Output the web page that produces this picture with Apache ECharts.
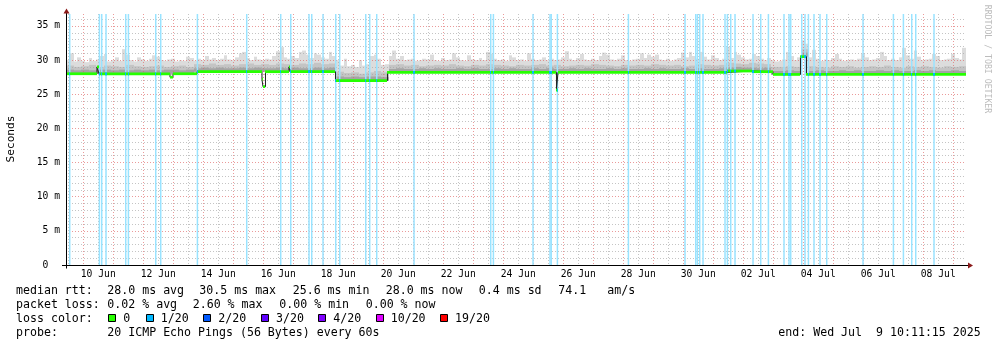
<!DOCTYPE html>
<html>
<head>
<meta charset="utf-8">
<script src="https://cdn.jsdelivr.net/npm/echarts@6/dist/echarts.min.js"></script>
<style>
  html, body { margin: 0; padding: 0; background: #fff; }
  #chart { width: 997px; height: 347px; }
</style>
</head>
<body>
<div id="chart"></div>
<script>
// ---------------- data (times are UTC, year 2025) ----------------
const startTime = '06-09 10:11:15';
const endTime = '07-09 10:11:15';

// day labels, each centred on noon of its day
const xTickDays = ['06-10', '06-12', '06-14', '06-16', '06-18', '06-20', '06-22', '06-24',
                   '06-26', '06-28', '06-30', '07-02', '07-04', '07-06', '07-08'];
const xTickLabels = ['10 Jun', '12 Jun', '14 Jun', '16 Jun', '18 Jun', '20 Jun', '22 Jun', '24 Jun',
                     '26 Jun', '28 Jun', '30 Jun', '02 Jul', '04 Jul', '06 Jul', '08 Jul'];

const yMaxMs = 36.75;
const yTickStep = 5;

// median rtt (ms): level changes, value holds until the next entry
const medianLevels = [
  ['06-09 10:11', 28.0],
  ['06-13 18:58', 28.3],
  ['06-18 09:46', 27.0],
  ['06-20 03:22', 28.2],
  ['07-01 10:58', 28.4],
  ['07-02 07:22', 28.3],
  ['07-02 23:46', 27.9],
  ['07-03 21:46', 30.5],
  ['07-04 02:34', 27.9]
];
// short excursions of the median: [from, to, ms]
const medianSpikes = [
  ['06-10 10:58', '06-10 12:34', 29.0],
  ['06-12 21:22', '06-12 23:46', 27.5],
  ['06-15 22:58', '06-15 23:46', 27.2],
  ['06-15 23:46', '06-16 01:46', 26.1],
  ['06-16 20:34', '06-16 21:46', 29.0],
  ['06-25 18:34', '06-25 19:46', 25.6]
];

// packet loss events: [time, lost pings out of 20]
const lossStepMinutes = 72;
const lossEvents = [
  ['06-09 12:34', 1], ['06-10 12:19', 1], ['06-10 14:10', 1], ['06-10 17:36', 1],
  ['06-11 09:22', 1], ['06-11 11:31', 1], ['06-12 09:22', 1], ['06-12 13:22', 1],
  ['06-13 18:43', 1], ['06-15 10:10', 1], ['06-16 13:22', 1], ['06-16 21:22', 1],
  ['06-17 12:00', 1], ['06-17 14:10', 1], ['06-17 23:12', 1], ['06-18 09:22', 1],
  ['06-18 12:34', 1], ['06-19 09:22', 1], ['06-19 12:34', 1], ['06-19 18:10', 1],
  ['06-21 00:00', 1], ['06-23 13:22', 1], ['06-23 15:31', 1], ['06-24 23:12', 1],
  ['06-25 12:48', 1], ['06-25 13:46', 1], ['06-25 18:43', 1], ['06-28 03:31', 1],
  ['06-30 00:48', 1], ['06-30 09:22', 1], ['06-30 10:43', 1], ['06-30 12:34', 1],
  ['06-30 15:12', 1], ['07-01 08:48', 1], ['07-01 10:43', 1], ['07-01 13:22', 1],
  ['07-01 16:48', 1], ['07-02 07:12', 1], ['07-02 13:22', 1], ['07-02 19:31', 1],
  ['07-03 08:00', 1], ['07-03 12:00', 1], ['07-03 13:22', 1], ['07-03 22:10', 1],
  ['07-04 00:48', 1], ['07-04 03:31', 1], ['07-04 08:00', 1], ['07-04 12:48', 1],
  ['07-04 18:10', 1], ['07-05 23:12', 1], ['07-06 23:31', 1], ['07-07 07:31', 1],
  ['07-07 14:10', 1], ['07-07 17:22', 1], ['07-08 08:00', 1]
];

// smoke: highest ping per 3 h (ms)
const smokeStepHours = 3;
const smokeOuter = [
  30.0, 31.0, 29.8, 30.4, 29.9, 29.7, 30.3, 29.9, 30.1, 30.6,
  30.9, 29.8, 30.0, 30.4, 29.9, 31.6, 30.8, 30.0, 29.8, 30.4,
  30.1, 29.9, 30.2, 30.7, 30.5, 30.0, 29.9, 30.1, 30.2, 29.8,
  30.0, 29.9, 30.5, 30.3, 29.9, 30.2, 30.0, 30.6, 30.1, 30.3,
  30.0, 30.2, 30.7, 30.1, 30.0, 30.4, 31.0, 31.2, 30.3, 30.0,
  30.5, 30.1, 30.0, 30.2, 30.1, 30.6, 31.3, 31.9, 30.4, 30.2,
  30.6, 30.3, 31.2, 31.4, 30.8, 30.3, 31.0, 30.8, 30.4, 30.2,
  31.2, 30.6, 30.0, 29.2, 30.2, 29.1, 29.3, 29.0, 30.0, 29.2,
  29.4, 30.6, 30.8, 30.2, 29.3, 29.4, 30.6, 31.4, 30.2, 30.6,
  30.0, 30.1, 30.2, 29.9, 30.0, 30.2, 30.1, 30.8, 30.0, 29.9,
  30.3, 30.0, 30.1, 31.0, 30.4, 30.0, 29.9, 30.7, 30.1, 30.0,
  30.3, 30.0, 31.2, 30.9, 30.2, 30.0, 30.1, 29.9, 30.7, 30.4,
  30.0, 30.1, 29.9, 31.0, 30.2, 30.0, 30.1, 30.4, 30.0, 30.2,
  30.0, 30.1, 30.4, 31.3, 30.2, 30.0, 30.3, 30.9, 30.1, 30.0,
  30.2, 30.0, 30.6, 31.1, 30.8, 30.1, 30.0, 30.2, 30.7, 30.0,
  29.9, 30.1, 30.2, 31.0, 30.3, 30.8, 30.5, 30.8, 30.1, 30.0,
  30.2, 29.9, 30.1, 30.3, 31.1, 30.4, 31.2, 30.6, 30.2, 31.2,
  30.5, 30.1, 30.7, 30.3, 30.0, 30.2, 31.9, 30.3, 31.2, 30.8,
  30.4, 30.1, 30.2, 30.9, 30.6, 30.2, 30.0, 30.3, 30.0, 29.8,
  29.9, 30.1, 31.2, 30.6, 30.0, 30.4, 32.9, 32.4, 30.4, 31.5,
  30.2, 29.9, 30.1, 30.0, 30.3, 30.9, 30.2, 29.9, 30.0, 30.1,
  30.0, 30.2, 30.9, 30.4, 30.0, 30.1, 30.3, 31.2, 30.6, 30.0,
  30.2, 30.0, 30.4, 31.8, 30.7, 30.2, 31.4, 30.5, 30.0, 30.1,
  30.2, 30.9, 30.6, 30.0, 30.1, 30.2, 30.9, 30.3, 30.1, 31.8
];

// smoke: upper quartile and a tighter band around the median, per 6 h (ms)
const bandStepHours = 6;
const smokeMid = [
  29.2, 29.0, 29.1, 29.3, 29.0, 29.2, 29.1, 29.0, 29.3, 29.1,
  29.0, 29.1, 29.2, 29.0, 29.1, 29.2, 29.0,
  29.4, 29.3, 29.5, 29.3, 29.4, 29.2, 29.4, 29.5, 29.3, 29.4,
  29.3, 29.5, 29.4, 29.3, 29.5, 29.4, 29.6, 29.4, 29.5,
  28.3, 28.1, 28.2, 28.0, 28.2, 28.4, 28.2,
  29.3, 29.4, 29.2, 29.3, 29.1, 29.2, 29.3, 29.2, 29.4, 29.2,
  29.1, 29.3, 29.2, 29.4, 29.3, 29.2, 29.1, 29.3, 29.2, 29.3,
  29.4, 29.2, 29.3, 29.1, 29.2, 29.3, 29.2, 29.4, 29.3, 29.2,
  29.1, 29.3, 29.2, 29.3, 29.2, 29.4, 29.3, 29.2, 29.3, 29.1,
  29.2, 29.4, 29.3, 29.2, 29.3,
  29.6, 29.5, 29.4, 29.6, 29.5, 29.4, 29.0,
  29.0, 29.1, 29.0,
  31.6,
  29.1, 29.0, 28.9, 29.1, 29.0, 29.1, 28.9, 29.0, 29.1, 29.0,
  29.2, 29.0, 28.9, 29.1, 29.0, 29.1, 29.0, 28.9, 29.1, 29.0, 29.1
];
const smokeInner = [
  28.6, 28.5, 28.6, 28.5, 28.6, 28.6, 28.5, 28.6, 28.5, 28.6,
  28.5, 28.6, 28.5, 28.6, 28.6, 28.5, 28.6,
  28.8, 28.9, 28.8, 28.9, 28.8, 28.8, 28.9, 28.8, 28.9, 28.8,
  28.8, 28.9, 28.8, 28.9, 28.8, 28.8, 28.9, 28.8, 28.9,
  27.6, 27.5, 27.6, 27.5, 27.6, 27.6, 27.5,
  28.7, 28.8, 28.7, 28.7, 28.8, 28.7, 28.8, 28.7, 28.7, 28.8,
  28.7, 28.8, 28.7, 28.7, 28.8, 28.7, 28.8, 28.7, 28.7, 28.8,
  28.7, 28.8, 28.7, 28.7, 28.8, 28.7, 28.8, 28.7, 28.7, 28.8,
  28.7, 28.8, 28.7, 28.7, 28.8, 28.7, 28.8, 28.7, 28.7, 28.8,
  28.7, 28.8, 28.7, 28.7, 28.8,
  28.9, 29.0, 28.9, 28.9, 28.8, 28.9, 28.4,
  28.4, 28.5, 28.4,
  31.1,
  28.4, 28.5, 28.4, 28.4, 28.5, 28.4, 28.5, 28.4, 28.4, 28.5,
  28.4, 28.5, 28.4, 28.4, 28.5, 28.4, 28.5, 28.4, 28.4, 28.5, 28.4
];

// legend
const lossLabels = ['0', '1/20', '2/20', '3/20', '4/20', '10/20', '19/20'];
const lossColors = ['#26ff00', '#00b8ff', '#0059ff', '#5e00ff', '#7e00ff', '#dd00ff', '#ff0000'];
const lossCounts = [0, 1, 2, 3, 4, 10, 19];
const statsRtt = [['28.0', 'ms avg'], ['30.5', 'ms max'], ['25.6', 'ms min'], ['28.0', 'ms now']];
const statsLoss = [['0.02', '% avg'], ['2.60', '% max'], ['0.00', '% min'], ['0.00', '% now']];
const rttSd = '0.4';
const rttAmS = '74.1';
const probeText = '20 ICMP Echo Pings (56 Bytes) every 60s';
const endText = 'end: Wed Jul  9 10:11:15 2025';

// ---------------- helpers ----------------
function T(s) {
  const m = s.match(/^(\d\d)-(\d\d)(?: (\d\d):(\d\d)(?::(\d\d))?)?$/);
  return Date.UTC(2025, +m[1] - 1, +m[2], +(m[3] || 0), +(m[4] || 0), +(m[5] || 0));
}
const HOUR = 3600 * 1000;
const START = T(startTime), END = T(endTime);

const levelPts = medianLevels.map(([s, v]) => [T(s), v]);
function levelAt(t) {
  let v = levelPts[0][1];
  for (const [ti, vi] of levelPts) { if (ti <= t) v = vi; else break; }
  return v;
}
const spikes = medianSpikes.map(([a, b, v]) => [T(a), T(b), v]);
const cutSet = new Set([START, END]);
levelPts.forEach(p => cutSet.add(p[0]));
spikes.forEach(s => { cutSet.add(s[0]); cutSet.add(s[1]); });
const cuts = [...cutSet].filter(t => t >= START && t <= END).sort((a, b) => a - b);
const segments = [];
for (let i = 0; i < cuts.length - 1; i++) {
  const a = cuts[i], b = cuts[i + 1], mid = (a + b) / 2;
  const sp = spikes.find(s => s[0] <= mid && mid < s[1]);
  segments.push([a, b, sp ? sp[2] : levelAt(mid)]);
}
function medianAt(t) {
  const s = segments.find(s => s[0] <= t && t < s[1]);
  return s ? s[2] : segments[segments.length - 1][2];
}
function tint(hex, a) {
  const n = parseInt(hex.slice(1), 16);
  const c = [(n >> 16) & 255, (n >> 8) & 255, n & 255].map(v => Math.round(v * a + 255 * (1 - a)));
  return 'rgb(' + c.join(',') + ')';
}

// ---------------- layout / style ----------------
const GL = 66, GT = 14, GW = 900, GH = 251;
const FONT = '"DejaVu Sans Mono", "Liberation Mono", monospace';
const MAJOR_GRID = 'rgba(222,100,100,0.65)';
const MINOR_GRID = 'rgba(165,165,165,0.65)';
const GRID_DASH = [1, 2];
const BAND = 0.2;   // half height of the coloured median band (ms)

// vertical grid: midnights (major) and noons (minor)
const vGrid = [];
for (let t = T('06-09'); t <= END; t += 12 * HOUR) {
  if (t >= START) vGrid.push([t, (t % (24 * HOUR)) === 0 ? 1 : 0]);
}
const labelTimes = xTickDays.map(d => T(d) + 12 * HOUR);

const lossStepMs = lossStepMinutes * 60 * 1000;

function cellData(arr, stepH) {
  return arr.map((v, i) => [START + i * stepH * HOUR, v]);
}
function smokeRender(stepH, color) {
  const stepMs = stepH * HOUR;
  return function (params, api) {
    const t0 = api.value(0), top = api.value(1);
    const t1 = Math.min(t0 + stepMs, END);
    const base = levelAt((t0 + t1) / 2);
    const p0 = api.coord([t0, top]);
    const p1 = api.coord([t1, base]);
    const x0 = Math.round(p0[0]), x1 = Math.round(p1[0]);
    return {
      type: 'rect',
      shape: { x: x0, y: p0[1], width: x1 - x0, height: p1[1] - p0[1] },
      style: { fill: color }
    };
  };
}

// ---------------- legend text ----------------
const graphics = [];
function txt(x, y, s, extra) {
  graphics.push(Object.assign({
    type: 'text', x: x, y: y, z: 100, silent: true,
    style: { text: s, font: '11.6px ' + FONT, fill: '#000', verticalAlign: 'middle', align: 'left' }
  }, extra || {}));
}
const rowY = [291, 305, 319, 333];
txt(16, rowY[0], 'median rtt:');
[107.3, 199.3, 292.7, 385.7].forEach((x, i) => txt(x, rowY[0], statsRtt[i][0] + ' ' + statsRtt[i][1]));
txt(478.7, rowY[0], rttSd);
txt(506.7, rowY[0], 'ms sd');
txt(558.3, rowY[0], rttAmS);
txt(607.3, rowY[0], 'am/s');
txt(16, rowY[1], 'packet loss:');
[107.3, 192.7, 279.3, 365.7].forEach((x, i) => txt(x, rowY[1], statsLoss[i][0] + ' ' + statsLoss[i][1]));
txt(16, rowY[2], 'loss color:');
const boxX = [108.5, 146.5, 203.5, 261.5, 318.5, 376.5, 440.5];
const boxLabelX = [123.3, 160.7, 218.3, 276, 333.3, 390.7, 455];
lossLabels.forEach((lab, i) => {
  graphics.push({
    type: 'rect', z: 100, silent: true,
    shape: { x: boxX[i], y: 314.5, width: 7, height: 7 },
    style: { fill: lossColors[i], stroke: '#000', lineWidth: 1 }
  });
  txt(boxLabelX[i], rowY[2], lab);
});
txt(16, rowY[3], 'probe:');
txt(107.3, rowY[3], probeText);
txt(778.3, rowY[3], endText);

// axis title and credit
graphics.push({
  type: 'text', x: 11, y: 139, rotation: Math.PI / 2, z: 100, silent: true,
  style: { text: 'Seconds', font: '11.2px ' + FONT, fill: '#000', align: 'center', verticalAlign: 'middle' }
});
graphics.push({
  type: 'text', x: 987, y: 59, rotation: -Math.PI / 2, z: 100, silent: true,
  style: { text: 'RRDTOOL / TOBI OETIKER', font: '8.2px ' + FONT, fill: '#bcbcbc', align: 'center', verticalAlign: 'middle' }
});

// axis lines with arrows
const AX_Y = GT + GH + 0.5, AX_X = GL + 0.5;
graphics.push({ type: 'line', z: 110, silent: true, shape: { x1: GL - 4, y1: AX_Y, x2: GL + GW + 4, y2: AX_Y }, style: { stroke: '#000', lineWidth: 1 } });
graphics.push({ type: 'line', z: 110, silent: true, shape: { x1: AX_X, y1: AX_Y + 3, x2: AX_X, y2: GT - 2 }, style: { stroke: '#000', lineWidth: 1 } });
graphics.push({ type: 'polygon', z: 111, silent: true, shape: { points: [[GL - 2.5, GT - 0.5], [GL + 3.5, GT - 0.5], [GL + 0.5, GT - 5.5]] }, style: { fill: '#8b1a1a' } });
graphics.push({ type: 'polygon', z: 111, silent: true, shape: { points: [[GL + GW + 2, AX_Y - 3], [GL + GW + 2, AX_Y + 3], [GL + GW + 7, AX_Y]] }, style: { fill: '#8b1a1a' } });

// ---------------- chart ----------------
const chart = echarts.init(document.getElementById('chart'), null, { renderer: 'canvas' });
chart.setOption({
  animation: false,
  backgroundColor: '#fff',
  grid: { left: GL, top: GT, width: GW, height: GH, containLabel: false, outerBoundsMode: 'none' },
  xAxis: {
    type: 'value', min: START, max: END, z: 3,
    axisLine: { show: false }, axisTick: { show: false }, splitLine: { show: false },
    axisLabel: {
      customValues: labelTimes, margin: 4,
      fontFamily: FONT, fontSize: 9.7, color: '#000',
      formatter: v => xTickLabels[labelTimes.indexOf(v)] || ''
    }
  },
  yAxis: {
    type: 'value', min: 0, max: yMaxMs, interval: yTickStep, z: 3,
    axisLine: { show: false }, axisTick: { show: false },
    axisLabel: {
      margin: 6, fontFamily: FONT, fontSize: 9.7, color: '#000', showMaxLabel: false,
      formatter: v => (v === 0 ? '0\u00a0\u00a0' : v + ' m')
    },
    splitLine: { show: true, showMaxLine: false, showMinLine: false, lineStyle: { color: MAJOR_GRID, type: GRID_DASH, width: 1 } },
    minorTick: { show: false, splitNumber: 5 },
    minorSplitLine: { show: true, lineStyle: { color: MINOR_GRID, type: GRID_DASH, width: 1 } }
  },
  graphic: graphics,
  series: [
    { type: 'custom', name: 'smoke max', z: 2, silent: true, data: cellData(smokeOuter, smokeStepHours), renderItem: smokeRender(smokeStepHours, '#dcdcdc') },
    { type: 'custom', name: 'smoke mid', z: 2, silent: true, data: cellData(smokeMid, bandStepHours), renderItem: smokeRender(bandStepHours, '#c4c4c4') },
    { type: 'custom', name: 'smoke inner', z: 2, silent: true, data: cellData(smokeInner, bandStepHours), renderItem: smokeRender(bandStepHours, '#a4a4a4') },
    {
      type: 'custom', name: 'time grid', z: 3, silent: true,
      data: vGrid,
      renderItem: (params, api) => {
        const t = api.value(0), major = api.value(1);
        const top = api.coord([t, yMaxMs]), bot = api.coord([t, 0]);
        const x = Math.round(top[0]) + 0.5;
        return {
          type: 'line',
          shape: { x1: x, y1: top[1], x2: x, y2: bot[1] },
          style: { stroke: major ? MAJOR_GRID : MINOR_GRID, lineWidth: 1, lineDash: GRID_DASH }
        };
      }
    },
    {
      type: 'custom', name: 'loss', z: 4, silent: true,
      data: lossEvents.map(([s, n]) => [T(s), n]),
      renderItem: (params, api) => {
        const t = api.value(0), n = api.value(1);
        const p0 = api.coord([t, yMaxMs]), p1 = api.coord([t + lossStepMs, 0]);
        const idx = lossCounts.indexOf(n);
        return { type: 'rect', shape: { x: p0[0], y: p0[1], width: p1[0] - p0[0], height: p1[1] - p0[1] }, style: { fill: tint(lossColors[idx], 0.4) } };
      }
    },
    {
      type: 'line', name: 'median', z: 5, silent: true, showSymbol: false,
      data: segments.flatMap(s => [[s[0], s[2]], [s[1], s[2]]]),
      lineStyle: { color: '#202020', width: 1 }
    },
    {
      type: 'custom', name: 'median band', z: 6, silent: true,
      data: segments,
      renderItem: (params, api) => {
        const t0 = api.value(0), t1 = api.value(1), v = api.value(2);
        const p0 = api.coord([t0, v + BAND]), p1 = api.coord([t1, v - BAND]);
        const x0 = Math.round(p0[0]), x1 = Math.max(x0 + 1, Math.round(p1[0]));
        return { type: 'rect', shape: { x: x0, y: p0[1], width: x1 - x0, height: p1[1] - p0[1] }, style: { fill: lossColors[0] } };
      }
    },
    {
      type: 'custom', name: 'median loss', z: 7, silent: true,
      data: lossEvents.map(([s, n]) => [T(s), n]),
      renderItem: (params, api) => {
        const t = api.value(0), n = api.value(1);
        const v = medianAt(t + lossStepMs / 2);
        const p0 = api.coord([t, v + BAND]), p1 = api.coord([t + lossStepMs, v - BAND]);
        const x0 = Math.round(p0[0]);
        const w = Math.max(1, Math.round(p1[0]) - x0);
        return { type: 'rect', shape: { x: x0, y: p0[1], width: w, height: p1[1] - p0[1] }, style: { fill: lossColors[lossCounts.indexOf(n)] } };
      }
    }
  ]
});
</script>
</body>
</html>
